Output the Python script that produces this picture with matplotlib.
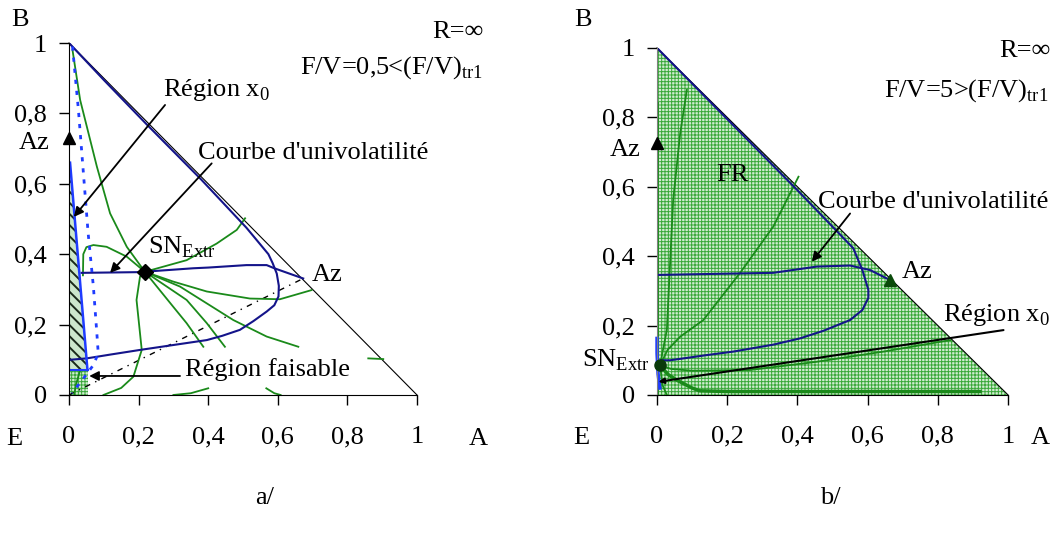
import matplotlib.pyplot as plt
from matplotlib.patches import Polygon

plt.rcParams['font.family'] = ['Liberation Serif', 'DejaVu Serif']
plt.rcParams['mathtext.fontset'] = 'custom'
plt.rcParams['mathtext.rm'] = 'Liberation Serif'
plt.rcParams['font.size'] = 19

# axis ticks (both panels)
ticks = [0, 0.2, 0.4, 0.6, 0.8, 1]
tick_labels = ['0', '0,2', '0,4', '0,6', '0,8', '1']

# ---------------- panel a/ : F/V = 0.5 ----------------
a_hyp_x = [0.0, 0.10, 0.22, 0.38, 0.51, 0.573, 0.585, 0.597, 0.603, 0.602, 0.59, 0.568, 0.53,
           0.491, 0.44, 0.396, 0.30, 0.204, 0.12, 0.051, 0.003]
a_hyp_y = [1.0, 0.895, 0.772, 0.612, 0.475, 0.40, 0.375, 0.345, 0.31, 0.28, 0.255, 0.237, 0.21,
           0.185, 0.168, 0.156, 0.142, 0.128, 0.115, 0.104, 0.10]
a_univ_x = [0.036, 0.2, 0.357, 0.40, 0.51, 0.568, 0.59, 0.673]
a_univ_y = [0.347, 0.349, 0.36, 0.362, 0.369, 0.369, 0.36, 0.331]
a_edge_x = [0.003, 0.053]
a_edge_y = [0.66, 0.071]
a_dot_x = [0.01, 0.027, 0.055, 0.07, 0.08, 0.084, 0.07, 0.04, 0.008]
a_dot_y = [0.99, 0.81, 0.459, 0.308, 0.175, 0.118, 0.085, 0.045, 0.005]
a_region_x = [0.0, 0.053, 0.003, 0.0]
a_region_y = [0.071, 0.071, 0.66, 0.66]
a_feas_x = [0.0, 0.055, 0.055, 0.0]
a_feas_y = [0.0, 0.0, 0.071, 0.071]
a_az_line_x = [0.0, 0.673]
a_az_line_y = [0.0, 0.331]
a_sn = (0.218, 0.35)
a_az1 = (0.0, 0.73)
a_az2 = (0.673, 0.331)

a_green = [
    ([0.01, 0.032, 0.08, 0.118, 0.166, 0.218], [0.98, 0.838, 0.649, 0.516, 0.421, 0.35]),
    ([0.04, 0.041, 0.05, 0.07, 0.108, 0.166, 0.218], [0.34, 0.40, 0.42, 0.426, 0.421, 0.393, 0.35]),
    ([0.218, 0.338, 0.424, 0.482, 0.506], [0.35, 0.383, 0.43, 0.469, 0.502]),
    ([0.218, 0.30, 0.396, 0.52, 0.606, 0.697], [0.35, 0.322, 0.294, 0.274, 0.272, 0.298]),
    ([0.218, 0.319, 0.472, 0.568, 0.659], [0.35, 0.308, 0.213, 0.166, 0.137]),
    ([0.218, 0.338, 0.396, 0.448], [0.35, 0.27, 0.204, 0.137]),
    ([0.218, 0.30, 0.338, 0.386], [0.35, 0.25, 0.204, 0.137]),
    ([0.218, 0.204, 0.194, 0.209, 0.185, 0.15, 0.099], [0.35, 0.336, 0.27, 0.128, 0.052, 0.02, 0.0]),
    ([0.30, 0.35, 0.40], [0.0, 0.005, 0.019]),
    ([0.567, 0.59, 0.608], [0.019, 0.005, 0.0]),
    ([0.86, 0.903], [0.104, 0.102]),
    ([0.032, 0.02, 0.015], [0.07, 0.03, 0.0]),
]

# ---------------- panel b/ : F/V = 5 ----------------
b_hyp_x = [0.0, 0.2, 0.4, 0.559, 0.585, 0.602, 0.602, 0.585, 0.55, 0.474, 0.407, 0.331,
           0.217, 0.142, 0.037, 0.01]
b_hyp_y = [1.0, 0.795, 0.59, 0.423, 0.36, 0.303, 0.28, 0.245, 0.216, 0.185, 0.163, 0.145,
           0.125, 0.115, 0.1, 0.1]
b_univ_x = [0.004, 0.331, 0.455, 0.55, 0.607, 0.664]
b_univ_y = [0.346, 0.352, 0.37, 0.373, 0.36, 0.331]
b_blue_x = [0.0, 0.0, 0.003, 0.008]
b_blue_y = [0.163, 0.12, 0.06, 0.02]
b_sn = (0.009, 0.086)
b_az1 = (0.0, 0.725)
b_az2 = (0.664, 0.331)

b_green = [
    ([0.003, 0.003], [0.84, 0.0]),
    ([0.009, 0.015, 0.028, 0.046, 0.066, 0.085], [0.086, 0.12, 0.187, 0.562, 0.754, 0.879]),
    ([0.009, 0.03, 0.066, 0.132, 0.236, 0.331, 0.403], [0.086, 0.13, 0.168, 0.216, 0.351, 0.485, 0.629]),
    ([0.009, 0.04, 0.1, 0.265, 0.45, 0.645, 0.835], [0.086, 0.075, 0.07, 0.072, 0.095, 0.125, 0.158]),
    ([0.009, 0.015, 0.028], [0.086, 0.03, 0.0]),
]
b_base_x = [0.009, 0.03, 0.056, 0.1, 0.122, 0.2, 0.92]
b_base_y = [0.086, 0.06, 0.043, 0.02, 0.012, 0.01, 0.01]

navy = '#14148a'
green = '#1a8a1a'
blue = '#1f3cff'


def setup(ax, spine_col):
    ax.set_xlim(0, 1)
    ax.set_ylim(0, 1)
    ax.set_xticks(ticks)
    ax.set_xticklabels([])
    ax.set_yticks(ticks)
    ax.set_yticklabels(tick_labels)
    ax.spines['top'].set_visible(False)
    ax.spines['right'].set_visible(False)
    ax.spines['left'].set_color(spine_col)
    ax.tick_params(axis='x', direction='out', length=7, width=1)
    ax.tick_params(axis='y', direction='out', length=7, width=1, pad=9)
    ax.plot([0, 1], [1, 0], color='k', lw=0.8, clip_on=False)
    for t, lab in zip(ticks, tick_labels):
        ax.text(t, -0.12, lab, ha='center', va='center')
    ax.set_facecolor('none')


def arrow(ax, start, end):
    ax.annotate('', xy=end, xytext=start,
                arrowprops=dict(arrowstyle='-|>', color='k', lw=1.3,
                                mutation_scale=14, shrinkA=0, shrinkB=0))


fig = plt.figure(figsize=(10.57, 5.39), dpi=100)
ax_a = fig.add_axes([0.0653, 0.2672, 0.3292, 0.653])
ax_b = fig.add_axes([0.6216, 0.2672, 0.3321, 0.6438])

# ----- panel a -----
setup(ax_a, 'k')
p = Polygon(list(zip(a_region_x, a_region_y)), closed=True, facecolor='#cce8cc',
            edgecolor='#1a2a1a', lw=0, hatch='\\\\\\', zorder=1)
if hasattr(p, 'set_hatch_linewidth'):
    p.set_hatch_linewidth(1.4)
ax_a.add_patch(p)
p = Polygon(list(zip(a_feas_x, a_feas_y)), closed=True, facecolor='#d0ecd0',
            edgecolor='#3aa83a', lw=0, hatch='+++++', zorder=1)
if hasattr(p, 'set_hatch_linewidth'):
    p.set_hatch_linewidth(0.7)
ax_a.add_patch(p)

ax_a.plot(a_az_line_x, a_az_line_y, color='k', lw=1, linestyle=(0, (4, 4, 1, 4)))
for gx, gy in a_green:
    ax_a.plot(gx, gy, color=green, lw=1.3, clip_on=False)
ax_a.plot(a_hyp_x, a_hyp_y, color=navy, lw=1.5)
ax_a.plot(a_univ_x, a_univ_y, color=navy, lw=1.5)
ax_a.plot(a_edge_x, a_edge_y, color=blue, lw=1.8)
ax_a.plot([0, 0.055], [0.071, 0.071], color=blue, lw=1.5)
ax_a.plot(a_dot_x, a_dot_y, color=blue, lw=2, linestyle=(0, (1.5, 2.5)))
ax_a.plot(*a_sn, marker='D', color='k', markersize=8, zorder=5)
ax_a.plot(*a_az1, marker='^', color='k', markersize=9, clip_on=False, zorder=5)

ax_a.text(-0.055, 0.716, 'Az', ha='right', va='center')
ax_a.text(0.698, 0.34, 'Az', ha='left', va='center')
ax_a.text(0.227, 0.42, 'SN$_{\\mathrm{Extr}}$', ha='left', va='center')
ax_a.text(0.27, 0.866, 'Région x$_{\\mathrm{0}}$', ha='left', va='center')
ax_a.text(0.371, 0.6875, "Courbe d'univolatilité", ha='left', va='center')
ax_a.text(0.333, 0.071, 'Région faisable', ha='left', va='center')
arrow(ax_a, (0.276, 0.824), (0.014, 0.506))
arrow(ax_a, (0.41, 0.658), (0.118, 0.347))
arrow(ax_a, (0.319, 0.054), (0.058, 0.054))
ax_a.text(1.19, 1.03, 'R=∞', ha='right', va='center')
ax_a.text(1.19, 0.93, 'F/V=0,5<(F/V)$_{\\mathrm{tr1}}$', ha='right', va='center')
ax_a.text(-0.141, 1.065, 'B', ha='center', va='center')
ax_a.text(-0.158, -0.125, 'E', ha='center', va='center')
ax_a.text(1.175, -0.125, 'A', ha='center', va='center')
ax_a.text(0.563, -0.293, 'a/', ha='center', va='center')

# ----- panel b -----
setup(ax_b, '#808080')
p = Polygon([(0, 0), (0, 1), (1, 0)], closed=True, facecolor='#d0ecd0',
            edgecolor='#3aa83a', lw=0, hatch='+++++', zorder=0.5)
if hasattr(p, 'set_hatch_linewidth'):
    p.set_hatch_linewidth(0.7)
ax_b.add_patch(p)
for gx, gy in b_green:
    ax_b.plot(gx, gy, color=green, lw=1.3, clip_on=False)
ax_b.plot(b_base_x, b_base_y, color=green, lw=2.5)
ax_b.plot(b_hyp_x, b_hyp_y, color=navy, lw=1.5)
ax_b.plot(b_univ_x, b_univ_y, color=navy, lw=1.5)
ax_b.plot(b_blue_x, b_blue_y, color=blue, lw=2.5, clip_on=False)
ax_b.plot(*b_sn, marker='o', color='#0a3a0a', markersize=8, clip_on=False, zorder=5)
ax_b.plot(*b_az1, marker='^', color='k', markersize=9, clip_on=False, zorder=5)
ax_b.plot(*b_az2, marker='^', color='#0a4a0a', markersize=9, zorder=5)
ax_b.annotate('', xy=(0.004, 0.038), xytext=(0.987, 0.187),
              arrowprops=dict(arrowstyle='-|>', color='k', lw=1.5,
                              mutation_scale=8, shrinkA=0, shrinkB=0))

ax_b.text(-0.048, 0.706, 'Az', ha='right', va='center')
ax_b.text(0.697, 0.355, 'Az', ha='left', va='center')
ax_b.text(0.17, 0.634, 'FR', ha='left', va='center')
ax_b.text(-0.02, 0.10, 'SN$_{\\mathrm{Extr}}$', ha='right', va='center')
ax_b.text(0.816, 0.231, 'Région x$_{\\mathrm{0}}$', ha='left', va='center')
ax_b.text(0.459, 0.557, "Courbe d'univolatilité", ha='left', va='center')
arrow(ax_b, (0.55, 0.523), (0.441, 0.384))
ax_b.text(1.12, 0.99, 'R=∞', ha='right', va='center')
ax_b.text(1.114, 0.878, 'F/V=5>(F/V)$_{\\mathrm{tr1}}$', ha='right', va='center')
ax_b.text(-0.211, 1.08, 'B', ha='center', va='center')
ax_b.text(-0.217, -0.125, 'E', ha='center', va='center')
ax_b.text(1.091, -0.125, 'A', ha='center', va='center')
ax_b.text(0.493, -0.297, 'b/', ha='center', va='center')

fig.savefig('out.png', dpi=100)
